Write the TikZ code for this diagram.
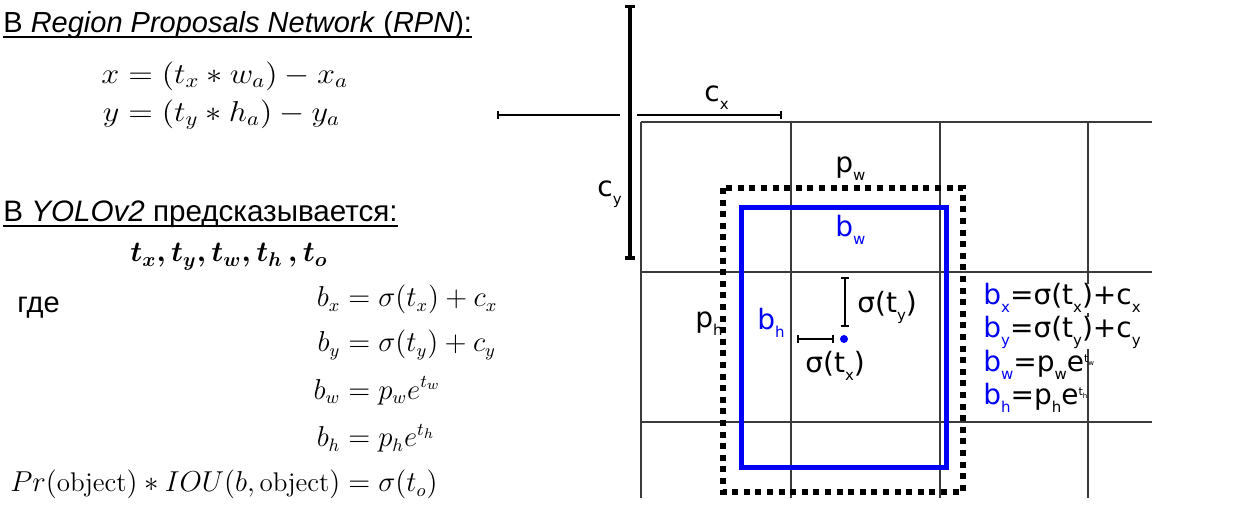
\documentclass[tikz,border=0pt]{standalone}
\usepackage{amsmath}
\usepackage{graphicx}
\usepackage{fontspec}
\newfontfamily\slidefont{Liberation Sans}
\newfontfamily\figfont{DejaVu Sans}
\usetikzlibrary{positioning,arrows.meta}
\definecolor{yoloblue}{HTML}{0000F5}
\definecolor{gridgray}{HTML}{3A3A3A}
% slide-style underline that runs close to the baseline
\newcommand{\slideul}[1]{\setbox0\hbox{#1}\rlap{\rule[-2.6pt]{\wd0}{1.2pt}}\box0}
% low subscript and tiny exponent of the figure labels
\newcommand{\lsub}[1]{\raisebox{-4pt}{\fontsize{7.5}{8}\selectfont #1}}
\newcommand{\lexp}[2]{\raisebox{4.5pt}{\fontsize{5.5}{6}\selectfont #1\raisebox{-1.5pt}{\fontsize{3.5}{4}\selectfont #2}}}

\begin{document}
\begin{tikzpicture}[
  x=0.5pt,y=-0.5pt,
  slidetitle/.style={font=\slidefont\fontsize{14.5}{17}\selectfont,inner sep=0pt,anchor=base west},
  slidetext/.style={font=\slidefont\fontsize{14.5}{17}\selectfont,inner sep=0pt,anchor=base west},
  eqn/.style={font=\fontsize{13.5}{16}\selectfont,inner sep=0pt},
  lbl/.style={font=\figfont\fontsize{14}{16}\selectfont,inner sep=0pt,anchor=base west},
  gridline/.style={draw=gridgray,line width=0.6pt},
  measure/.style={draw=black,line width=1pt},
  priorbox/.style={draw=black,line width=3pt,dash pattern=on 3pt off 2.8pt},
  predbox/.style={draw=yoloblue,line width=2.5pt}
]
\useasboundingbox (0,0) rectangle (1253,528);

% left column: the formulas
\node[slidetitle] (rpn) at (3,33)
  {\slideul{В \textit{Region Proposals Network} (\textit{RPN}):}};
\node[eqn,font=\fontsize{14}{16}\selectfont,anchor=west] (rpneq) at (101,96)
  {\scalebox{1.12}[1]{$\begin{aligned} x &= (t_x * w_a) - x_a\\ y &= (t_y * h_a) - y_a \end{aligned}$}};
\node[slidetitle,font=\slidefont\fontsize{14.8}{17}\selectfont] (yolo) at (3,222)
  {\slideul{В \textit{YOLOv2} предсказывается:}};
\node[eqn,font=\fontsize{14}{16}\selectfont,anchor=base west] (preds) at (130,262)
  {$\boldsymbol{t_x, t_y, t_w, t_h\,,t_o}$};
\node[slidetext] (gde) at (17,313) {где};
\node[eqn,anchor=west] (yoloeq) at (10,393)
  {$\begin{aligned}
     b_x &= \sigma(t_x) + c_x\\[3.5pt]
     b_y &= \sigma(t_y) + c_y\\[3.5pt]
     b_w &= p_w e^{t_w}\\[3.5pt]
     b_h &= p_h e^{t_h}\\[3.5pt]
     Pr(\mathrm{object}) * IOU(b,\mathrm{object}) &= \sigma(t_o)
   \end{aligned}$};

% grid of cells
\foreach \gx in {641,791,940,1088}
  \draw[gridline] (\gx,122) -- (\gx,498);
\foreach \gy in {122,272,422}
  \draw[gridline] (641,\gy) -- (1152,\gy);

% cell offsets
\coordinate (cy-top) at (630,5);
\coordinate (cy-bot) at (630,260);
\coordinate (ax-left) at (497,115);
\coordinate (ax-right) at (620,115);
\coordinate (cx-left) at (637,115);
\coordinate (cx-right) at (782,115);
\draw[measure,line width=1.75pt,{Bar[width=5pt]}-{Bar[width=5pt]}] (cy-top) -- (cy-bot);
\draw[measure,{Bar[width=4pt]}-] (ax-left) -- (ax-right);
\draw[measure,-{Bar[width=4pt]}] (cx-left) -- (cx-right);
\node[lbl] (cx) at (704,102) {c\lsub{x}};
\node[lbl] (cy) at (597,197) {c\lsub{y}};

% prior and predicted boxes
\draw[priorbox] (723,188) rectangle (963,492);
\draw[predbox] (741,208) rectangle (946,468);
\node[lbl] (pw) at (835,173) {p\lsub{w}};
\node[lbl] (ph) at (695,328) {p\lsub{h}};
\node[lbl,text=yoloblue] (bw) at (835,237) {b\lsub{w}};
\node[lbl,text=yoloblue] (bh) at (757,330) {b\lsub{h}};

% centre offset inside the cell
\coordinate (centre) at (844,339);
\coordinate (sy-top) at (845,277);
\coordinate (sy-bot) at (845,327);
\coordinate (sx-left) at (797,339);
\coordinate (sx-right) at (834,339);
\draw[measure,{Bar[width=4pt]}-{Bar[width=4pt]}] (sy-top) -- (sy-bot);
\draw[measure,{Bar[width=4pt]}-{Bar[width=4pt]}] (sx-left) -- (sx-right);
\fill[yoloblue] (centre) circle (2pt);
\node[lbl] (sy) at (857,313) {σ(t\lsub{y})};
\node[lbl] (sx) at (805,373) {σ(t\lsub{x})};

% box equations
\node[lbl,fill=white] (eqbx) at (983,305)
  {\textcolor{yoloblue}{b\lsub{x}}=σ(t\lsub{x})+c\lsub{x}};
\node[lbl,fill=white] (eqby) at (983,338)
  {\textcolor{yoloblue}{b\lsub{y}}=σ(t\lsub{y})+c\lsub{y}};
\node[lbl] (eqbw) at (983,372)
  {\textcolor{yoloblue}{b\lsub{w}}=p\lsub{w}e\lexp{t}{w}};
\node[lbl] (eqbh) at (983,405)
  {\textcolor{yoloblue}{b\lsub{h}}=p\lsub{h}e\lexp{t}{h}};
\end{tikzpicture}
\end{document}
